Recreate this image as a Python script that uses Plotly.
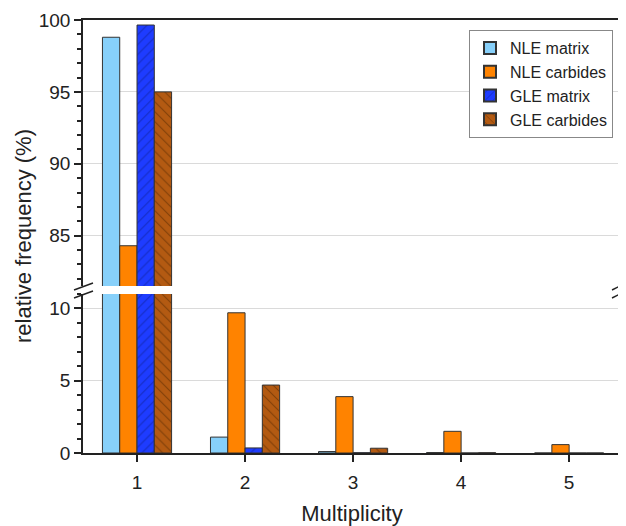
import plotly.graph_objects as go

categories = [1, 2, 3, 4, 5]
series_names = ["NLE matrix", "NLE carbides", "GLE matrix", "GLE carbides"]
nle_matrix = [98.8, 1.1, 0.1, 0.03, 0.0]
nle_carbides = [84.3, 9.7, 3.9, 1.5, 0.58]
gle_matrix = [99.65, 0.35, 0.02, 0.0, 0.0]
gle_carbides = [95.0, 4.7, 0.33, 0.02, 0.0]
values = [nle_matrix, nle_carbides, gle_matrix, gle_carbides]

colors = ["#87D0FA", "#FF8300", "#1E3CFF", "#B35A12"]
patterns = ["", "", "/", "\\"]
pattern_fg = ["#000000", "#000000", "#0A1A80", "#4A2200"]

OFF = 8  # page body margin
W, H = 618, 518
# page-pixel plot box: left 83, right 621, top 20, bottom 453
L, T = 83 - OFF, 20 - OFF
R = W - (621 - OFF)
B = H - (453 - OFF)
pw, ph = W - L - R, H - T - B

def px(x):
    return (x - OFF - L) / pw

def py(y):
    return (H - B - (y - OFF)) / ph

fig = go.Figure()
for i, name in enumerate(series_names):
    for yax, show in (("y", False), ("y2", True)):
        fig.add_trace(go.Bar(
            x=categories, y=values[i], name=name, yaxis=yax,
            xaxis="x" if yax == "y" else "x2",
            showlegend=show, legendgroup=name,
            marker=dict(color=colors[i],
                        line=dict(color="#333333", width=1),
                        pattern=dict(shape=patterns[i], fgcolor=pattern_fg[i],
                                     size=7, solidity=0.15)),
        ))

bot_top = py(294)
top_bot = py(286)
axis_font = dict(family="Liberation Sans, Arial, sans-serif", size=19, color="#222")

fig.update_layout(
    width=W, height=H,
    margin=dict(l=L, r=R, t=T, b=B, autoexpand=False),
    paper_bgcolor="white", plot_bgcolor="white",
    barmode="group", bargap=0.36, bargroupgap=0,
    font=dict(family="Liberation Sans, Arial, sans-serif", color="#222"),
    xaxis=dict(domain=[0, 1], anchor="y", range=[0.5, 5.48],
               tickvals=categories, ticktext=[str(c) for c in categories],
               showline=True, linecolor="#222", linewidth=1.5,
               ticks="outside", ticklen=7, tickcolor="#222", tickwidth=1.5,
               ticklabelstandoff=4,
               tickfont=axis_font, showgrid=False, zeroline=False,
               title=dict(text="Multiplicity", font=dict(size=22, color="#222"), standoff=16)),
    xaxis2=dict(domain=[0, 1], anchor="y2", matches="x", side="top",
                showline=True, linecolor="#222", linewidth=1.5,
                showticklabels=False, ticks="", showgrid=False, zeroline=False),
    yaxis=dict(domain=[0, bot_top], anchor="x", range=[0, 11.0],
               tickvals=[0, 5, 10], showline=True, mirror=True,
               linecolor="#222", linewidth=1.5,
               ticks="outside", ticklen=7, tickcolor="#222", tickwidth=1.5,
               minor=dict(dtick=1, tick0=0, ticks="outside", ticklen=4, tickcolor="#222", showgrid=False),
               tickfont=axis_font, showgrid=True, gridcolor="#DADADA", gridwidth=1, zeroline=False),
    yaxis2=dict(domain=[top_bot, 1], anchor="x2", range=[81.5, 100],
                tickvals=[85, 90, 95, 100], showline=True, mirror=True,
                linecolor="#222", linewidth=1.5,
                ticks="outside", ticklen=7, tickcolor="#222", tickwidth=1.5,
                minor=dict(dtick=1, tick0=0, ticks="outside", ticklen=4, tickcolor="#222", showgrid=False),
                tickfont=axis_font, showgrid=True, gridcolor="#DADADA", gridwidth=1, zeroline=False),
    legend=dict(x=px(613), y=py(30), xanchor="right", yanchor="top",
                bgcolor="white", bordercolor="#888", borderwidth=1,
                font=dict(size=16, color="#222"), tracegroupgap=0,
                itemsizing="constant"),
    annotations=[dict(text="relative frequency (%)", textangle=-90,
                      x=px(24), y=py(236), xref="paper", yref="paper",
                      xanchor="center", yanchor="middle",
                      showarrow=False, font=dict(size=22, color="#222"))],
)

shapes = []
for (x0, x1) in ((74, 93), (612, 626)):
    for (y0, y1) in ((290, 283), (298, 291)):
        shapes.append(dict(type="line", xref="paper", yref="paper",
                           x0=px(x0), x1=px(x1), y0=py(y0), y1=py(y1),
                           line=dict(color="#222", width=1.5)))
fig.update_layout(shapes=shapes)

fig.write_html("out.html")
